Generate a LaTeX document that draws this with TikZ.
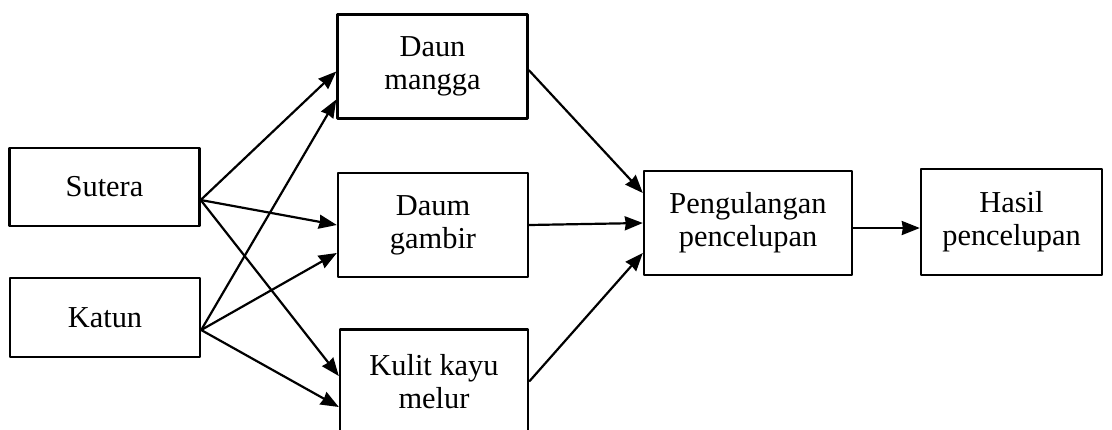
\documentclass[tikz,border=0pt]{standalone}
\usepackage{fontspec}
\setmainfont{Liberation Serif}
\usetikzlibrary{arrows.meta}
\begin{document}
\begin{tikzpicture}[>={Stealth[length=9pt,width=7pt,inset=0.5pt]},line join=round,line width=1.1pt,x=0.5pt,y=-0.5pt,
		font=\fontsize{15.2}{16.5}\selectfont,
		kotak/.style={draw,line width=1.2pt,align=center,inner sep=0pt,minimum width=95pt,minimum height=52pt}]
				\useasboundingbox (0,0) rectangle (1112,429);
				\node[kotak,minimum height=39pt] (sutera) at (104.5,187) {Sutera};
				\node[kotak,minimum height=39.5pt] (katun) at (105,317.5) {Katun};
				\node[kotak] (mangga) at (432.5,66.5) {Daun\\mangga};
				\node[kotak] (gambir) at (433,225) {Daum\\gambir};
				\node[kotak,minimum width=94pt] (kulit) at (434,381.5) {Kulit kayu\\melur};
				\node[kotak,minimum width=104pt] (ulang) at (748,223) {Pengulangan\\pencelupan};
				\node[kotak,minimum width=90.5pt,minimum height=53pt] (hasil) at (1011.5,222) {Hasil\\pencelupan};
				\draw[->] ([yshift=-6.5pt]sutera.east) -- ([yshift=-2.5pt]mangga.west);
				\draw[->] ([yshift=-6.5pt]sutera.east) -- (gambir.west);
				\draw[->] ([yshift=-6.5pt]sutera.east) -- ([yshift=2.75pt]kulit.west);
				\draw[->] ([yshift=-6.25pt]katun.east) -- ([yshift=-16.5pt]mangga.west);
				\draw[->] ([yshift=-6.25pt]katun.east) -- ([yshift=-14pt]gambir.west);
				\draw[->] ([yshift=-6.25pt]katun.east) -- ([yshift=-12.75pt]kulit.west);
				\draw[->] ([yshift=-1.75pt]mangga.east) -- ([yshift=15pt]ulang.west);
				\draw[->] (gambir.east) -- (ulang.west);
				\draw[->] (kulit.east) -- ([yshift=-15pt]ulang.west);
				\draw[->] ([yshift=-2.5pt]ulang.east) -- ([yshift=-3pt]hasil.west);
			\end{tikzpicture}
\end{document}
